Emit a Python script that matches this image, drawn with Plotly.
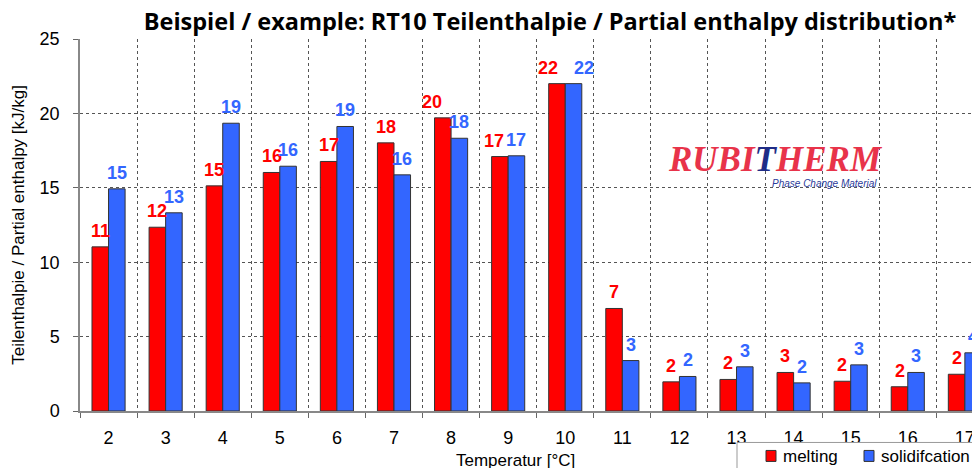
import plotly.graph_objects as go

categories = ["2", "3", "4", "5", "6", "7", "8", "9", "10", "11", "12", "13", "14", "15", "16", "17"]
melting = [11.03, 12.35, 15.13, 16.03, 16.77, 18.02, 19.70, 17.10, 22.0, 6.89, 1.96, 2.12, 2.59, 2.00, 1.63, 2.47]
solidification = [14.93, 13.32, 19.34, 16.45, 19.12, 15.87, 18.33, 17.15, 22.0, 3.39, 2.32, 2.97, 1.89, 3.10, 2.59, 3.91]
series_names = ["melting", "solidifcation"]

# label nudges (px) for the data labels that were moved by hand in the original
label_nudge = {("melting", "8"): -11, ("melting", "9"): -6,
               ("melting", "10"): -9, ("solidifcation", "10"): 10}

RED = "#FF0000"
BLUE = "#3366FF"
LABEL_FONT = "Liberation Sans, Arial, sans-serif"

# The page body has an 8px margin, so the figure is drawn 8px smaller and
# every reference pixel position is shifted by that offset.
O = 8
W, H = 980 - O, 468 - O
L, T = 80 - O, 39 - O
B = H - (411.5 - O)
PW, PH = W - L, H - T - B

X_RANGE = [-0.5, 15.265]
BARGAP = 0.42
band_px = PW / (X_RANGE[1] - X_RANGE[0])
bar_px = band_px * (1 - BARGAP) / 2


def px_x(x):
    return ((x - O) - L) / PW


def px_y(y):
    return ((H - B) - (y - O)) / PH


fig = go.Figure()
series = [(series_names[0], melting, RED, -bar_px / 2),
          (series_names[1], solidification, BLUE, bar_px / 2)]
for name, vals, col, _ in series:
    fig.add_trace(go.Bar(
        x=categories, y=vals, name=name,
        marker=dict(color=col, line=dict(color="#333333", width=1)),
    ))

# data labels (x given as category index on the category axis)
for name, vals, col, off in series:
    for i, (c, v) in enumerate(zip(categories, vals)):
        fig.add_annotation(
            x=i, y=v, xref="x", yref="y", text=f"{v:.0f}",
            showarrow=False, xanchor="center", yanchor="bottom",
            xshift=off + label_nudge.get((name, c), 0), yshift=4,
            font=dict(family=LABEL_FONT, size=18, color=col, weight="bold"),
        )

fig.update_layout(
    width=W, height=H,
    margin=dict(l=L, r=0, t=T, b=B, autoexpand=False),
    paper_bgcolor="white", plot_bgcolor="white",
    barmode="group", bargap=BARGAP, bargroupgap=0,
    font=dict(family=LABEL_FONT, size=18, color="#000000"),
    title=dict(
        text="Beispiel / example: RT10 Teilenthalpie / Partial enthalpy distribution*",
        x=(550 - O) / W, xanchor="center", y=1 - (22 - O) / H, yanchor="middle",
        font=dict(family="Open Sans, sans-serif", size=23.5, color="#000000", weight="bold"),
    ),
    xaxis=dict(
        type="category", range=X_RANGE, automargin=False,
        tickson="boundaries", ticks="outside", ticklen=5, tickcolor="#666666",
        showgrid=True, gridcolor="#555555", griddash="dot", gridwidth=1,
        showline=True, linecolor="#888888", linewidth=1.5,
        tickfont=dict(family=LABEL_FONT, size=18, color="#000000"),
        ticklabelstandoff=10,
    ),
    yaxis=dict(
        range=[0, 25], dtick=5, tick0=0, automargin=False,
        ticks="outside", ticklen=5, tickcolor="#666666",
        showgrid=True, gridcolor="#555555", griddash="dot", gridwidth=1,
        showline=True, linecolor="#888888", linewidth=1.5,
        tickfont=dict(family=LABEL_FONT, size=18, color="#000000"),
        ticklabelstandoff=10,
        zeroline=False,
    ),
    showlegend=False,
)

# y-axis title
fig.add_annotation(
    text="Teilenthalpie / Partial enthalpy [kJ/kg]", xref="paper", yref="paper",
    x=px_x(19), y=px_y(225), textangle=-90,
    xanchor="center", yanchor="middle", showarrow=False,
    font=dict(family=LABEL_FONT, size=17, color="#000000"),
)

# x-axis title (positioned like the reference, cut at the bottom)
fig.add_annotation(
    text="Temperatur [°C]", xref="paper", yref="paper",
    x=px_x(515), y=px_y(461),
    xanchor="center", yanchor="middle", showarrow=False,
    font=dict(family=LABEL_FONT, size=17, color="#000000"),
)

# Manual legend (box extends past the bottom-right edges as in the reference)
fig.add_shape(type="rect", xref="paper", yref="paper",
              x0=px_x(737), x1=px_x(990), y0=px_y(480), y1=px_y(443),
              line=dict(color="#999999", width=1), fillcolor="white", layer="above")
legend_items = [(766, series_names[0], RED), (864, series_names[1], BLUE)]
for sx, name, col in legend_items:
    fig.add_shape(type="rect", xref="paper", yref="paper",
                  x0=px_x(sx), x1=px_x(sx + 10), y0=px_y(462), y1=px_y(451),
                  line=dict(color="#333333", width=1), fillcolor=col, layer="above")
    fig.add_annotation(
        text=name, xref="paper", yref="paper",
        x=px_x(sx + 15), y=px_y(457), xanchor="left", yanchor="middle",
        showarrow=False, font=dict(family=LABEL_FONT, size=17, color="#000000"),
    )

# Rubitherm logo (text approximation)
fig.add_annotation(
    text="RUBI<span style='color:#1F2C86'>T</span>HERM",
    xref="paper", yref="paper",
    x=px_x(775), y=px_y(160),
    xanchor="center", yanchor="middle", showarrow=False,
    font=dict(family="Liberation Serif, serif", size=35, color="#E8334A", weight="bold", style="italic"),
)
fig.add_annotation(
    text="Phase Change Material",
    xref="paper", yref="paper",
    x=px_x(824), y=px_y(184),
    xanchor="center", yanchor="middle", showarrow=False,
    font=dict(family=LABEL_FONT, size=10, color="#2A3A9A", style="italic"),
)

fig.write_html("out.html")
